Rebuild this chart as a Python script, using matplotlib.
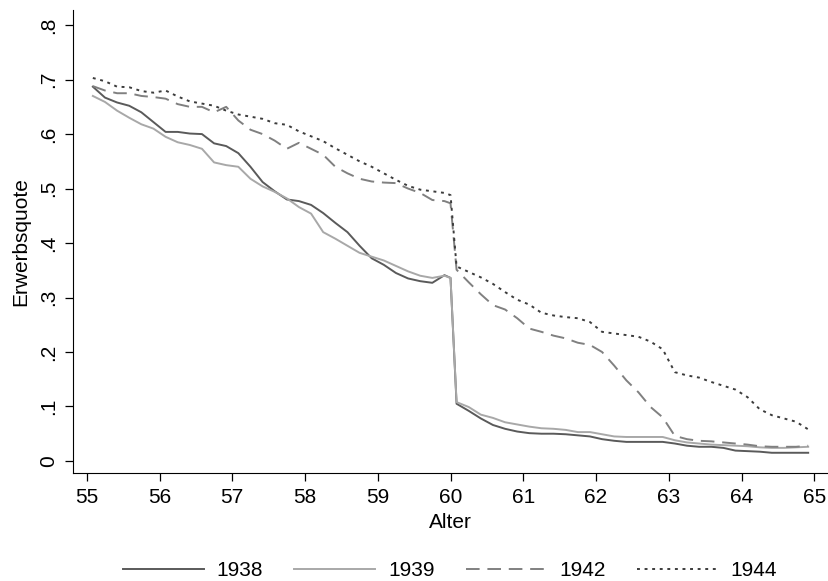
import matplotlib
matplotlib.use("Agg")
import matplotlib.pyplot as plt

plt.rcParams['font.family'] = ['Liberation Sans', 'DejaVu Sans']

# Alter in Monaten (alle 2 Monate, plus Monat 60 direkt vor dem Sprung)
months = list(range(1, 60, 2)) + [60] + list(range(61, 120, 2))
ages = [55 + m / 12 for m in months]

q1938 = [0.687, 0.667, 0.658, 0.652, 0.640, 0.622, 0.604, 0.604, 0.601, 0.600,
         0.583, 0.578, 0.565, 0.540, 0.512, 0.495, 0.480, 0.477, 0.470, 0.455,
         0.437, 0.420, 0.395, 0.372, 0.360, 0.345, 0.335, 0.330, 0.327, 0.341,
         0.336,
         0.105, 0.092, 0.078, 0.066, 0.059, 0.054, 0.051, 0.050, 0.050, 0.049,
         0.047, 0.045, 0.040, 0.037, 0.035, 0.035, 0.035, 0.035, 0.032, 0.028,
         0.026, 0.026, 0.024, 0.019, 0.018, 0.017, 0.015, 0.015, 0.015, 0.015]
q1939 = [0.670, 0.659, 0.643, 0.630, 0.618, 0.610, 0.595, 0.585, 0.580, 0.573,
         0.548, 0.543, 0.540, 0.518, 0.504, 0.494, 0.482, 0.466, 0.454, 0.420,
         0.408, 0.395, 0.382, 0.375, 0.368, 0.358, 0.348, 0.340, 0.336, 0.340,
         0.336,
         0.108, 0.099, 0.085, 0.079, 0.071, 0.067, 0.063, 0.060, 0.059, 0.057,
         0.053, 0.053, 0.049, 0.045, 0.044, 0.044, 0.044, 0.044, 0.038, 0.034,
         0.032, 0.030, 0.029, 0.028, 0.027, 0.025, 0.024, 0.024, 0.025, 0.026]
q1942 = [0.688, 0.680, 0.675, 0.675, 0.670, 0.668, 0.665, 0.655, 0.650, 0.650,
         0.640, 0.650, 0.625, 0.608, 0.600, 0.588, 0.573, 0.584, 0.573, 0.562,
         0.540, 0.528, 0.518, 0.513, 0.511, 0.510, 0.500, 0.492, 0.479, 0.477,
         0.473,
         0.351, 0.328, 0.306, 0.286, 0.278, 0.262, 0.243, 0.237, 0.230, 0.225,
         0.217, 0.213, 0.200, 0.175, 0.148, 0.126, 0.099, 0.080, 0.046, 0.040,
         0.037, 0.036, 0.034, 0.032, 0.030, 0.027, 0.026, 0.026, 0.026, 0.028]
q1944 = [0.703, 0.697, 0.687, 0.686, 0.679, 0.676, 0.680, 0.669, 0.660, 0.656,
         0.652, 0.643, 0.636, 0.632, 0.628, 0.620, 0.617, 0.605, 0.596, 0.587,
         0.574, 0.562, 0.550, 0.540, 0.528, 0.516, 0.505, 0.498, 0.495, 0.492,
         0.488,
         0.357, 0.347, 0.337, 0.325, 0.310, 0.296, 0.287, 0.272, 0.267, 0.264,
         0.262, 0.255, 0.237, 0.234, 0.231, 0.228, 0.219, 0.205, 0.163, 0.157,
         0.153, 0.145, 0.138, 0.131, 0.117, 0.095, 0.084, 0.078, 0.072, 0.058]

xticks = list(range(55, 66))
yticks = [0, 0.1, 0.2, 0.3, 0.4, 0.5, 0.6, 0.7, 0.8]
ylabels = ["0", ".1", ".2", ".3", ".4", ".5", ".6", ".7", ".8"]

fig = plt.figure(figsize=(8.29, 5.81), dpi=100)
ax = fig.add_axes([0.088, 0.186, 0.910, 0.797])

ax.plot(ages, q1938, color="#5a5a5a", lw=1.4, label="1938")
ax.plot(ages, q1939, color="#a8a8a8", lw=1.4, label="1939")
ax.plot(ages, q1942, color="#808080", lw=1.4, dashes=(7, 4), label="1942")
ax.plot(ages, q1944, color="#3c3c3c", lw=1.4, dashes=(1.5, 2.4), label="1944")

ax.set_xlim(54.81, 65.18)
ax.set_ylim(-0.022, 0.828)
ax.set_xticks(xticks)
ax.set_yticks(yticks)
ax.set_yticklabels(ylabels, rotation=90, va="center")
ax.tick_params(labelsize=15, length=6, width=0.9, pad=5)
ax.spines["top"].set_visible(False)
ax.spines["right"].set_visible(False)
ax.set_xlabel("Alter", fontsize=15, labelpad=4)
ax.set_ylabel("Erwerbsquote", fontsize=15, labelpad=6)

fig.legend(loc="center", bbox_to_anchor=(450 / 829, 0.018), ncol=4, frameon=False,
           fontsize=15, handlelength=3.9, handletextpad=0.6, columnspacing=1.5)

fig.savefig("out.png", dpi=100)
